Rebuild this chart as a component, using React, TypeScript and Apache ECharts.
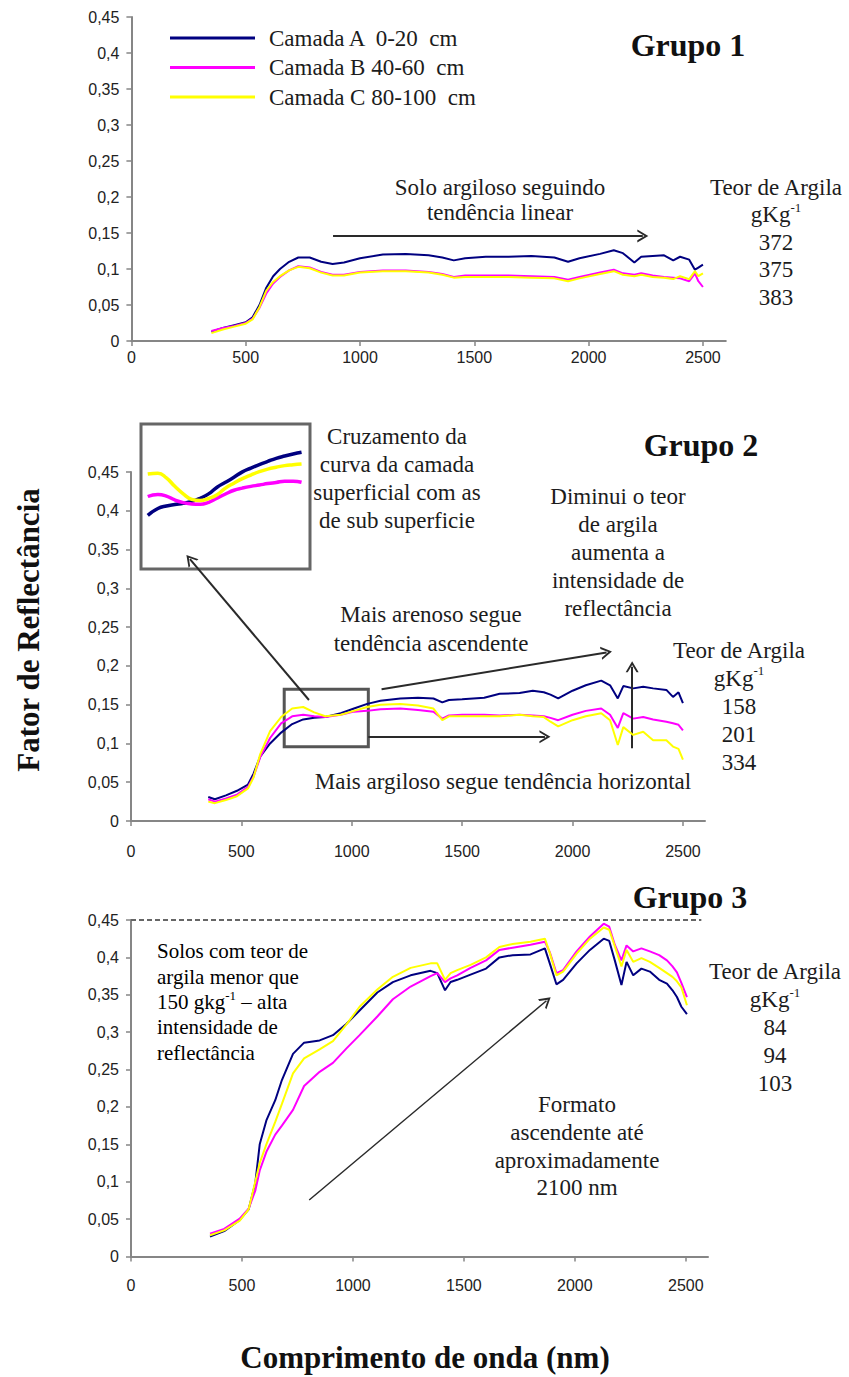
import React, { useEffect, useRef } from 'react';
import * as echarts from 'echarts';

// ---------- data ----------
const SERIES_NAMES = ['Camada A  0-20  cm', 'Camada B 40-60  cm', 'Camada C 80-100  cm'];
const COLORS = ['#000080', '#FF00FF', '#FFFF00'];
const X_TICKS = [0, 500, 1000, 1500, 2000, 2500];

// Grupo 1
const P1_WL = [350, 400, 450, 500, 530, 560, 590, 620, 650, 690, 730, 780, 830, 880, 930, 1000, 1100, 1200, 1300, 1360, 1410, 1460, 1550, 1650, 1750, 1850, 1910, 1960, 2050, 2110, 2150, 2200, 2230, 2280, 2330, 2370, 2400, 2440, 2465, 2480, 2500];
const P1_A = [0.013, 0.018, 0.022, 0.026, 0.033, 0.050, 0.074, 0.090, 0.100, 0.110, 0.116, 0.116, 0.110, 0.107, 0.109, 0.115, 0.120, 0.121, 0.119, 0.116, 0.112, 0.115, 0.117, 0.117, 0.118, 0.116, 0.110, 0.115, 0.121, 0.126, 0.122, 0.109, 0.117, 0.118, 0.119, 0.112, 0.117, 0.113, 0.099, 0.102, 0.106];
const P1_B = [0.014, 0.018, 0.021, 0.025, 0.031, 0.046, 0.066, 0.080, 0.089, 0.098, 0.104, 0.102, 0.096, 0.092, 0.092, 0.096, 0.098, 0.098, 0.096, 0.093, 0.089, 0.091, 0.091, 0.091, 0.090, 0.089, 0.085, 0.089, 0.095, 0.099, 0.094, 0.092, 0.094, 0.091, 0.089, 0.088, 0.087, 0.083, 0.094, 0.083, 0.075];
const P1_C = [0.011, 0.016, 0.020, 0.024, 0.030, 0.047, 0.070, 0.082, 0.090, 0.098, 0.103, 0.101, 0.095, 0.091, 0.091, 0.095, 0.097, 0.097, 0.095, 0.092, 0.088, 0.089, 0.089, 0.089, 0.088, 0.087, 0.083, 0.087, 0.093, 0.097, 0.092, 0.090, 0.092, 0.089, 0.088, 0.086, 0.090, 0.086, 0.097, 0.090, 0.094];
const P1_CLAY = ['372', '375', '383'];

// Grupo 2
const P2_WL = [350, 380, 430, 480, 530, 555, 585, 630, 680, 730, 780, 830, 880, 950, 1010, 1070, 1130, 1220, 1300, 1370, 1410, 1440, 1500, 1600, 1670, 1760, 1820, 1870, 1900, 1935, 2000, 2060, 2130, 2170, 2205, 2230, 2275, 2320, 2365, 2425, 2455, 2480, 2500];
const P2_A = [0.031, 0.028, 0.033, 0.039, 0.047, 0.061, 0.083, 0.100, 0.114, 0.125, 0.131, 0.133, 0.134, 0.139, 0.145, 0.151, 0.155, 0.158, 0.159, 0.158, 0.153, 0.156, 0.157, 0.159, 0.164, 0.165, 0.168, 0.166, 0.163, 0.158, 0.168, 0.175, 0.181, 0.175, 0.158, 0.174, 0.171, 0.173, 0.171, 0.169, 0.160, 0.166, 0.152];
const P2_B = [0.028, 0.025, 0.029, 0.034, 0.044, 0.057, 0.082, 0.107, 0.126, 0.135, 0.137, 0.135, 0.134, 0.137, 0.141, 0.142, 0.144, 0.145, 0.143, 0.141, 0.132, 0.136, 0.137, 0.137, 0.136, 0.137, 0.136, 0.135, 0.133, 0.130, 0.137, 0.142, 0.145, 0.137, 0.120, 0.139, 0.132, 0.134, 0.131, 0.128, 0.126, 0.124, 0.117];
const P2_C = [0.025, 0.023, 0.027, 0.032, 0.042, 0.056, 0.086, 0.116, 0.134, 0.145, 0.147, 0.140, 0.135, 0.137, 0.142, 0.147, 0.150, 0.151, 0.149, 0.145, 0.130, 0.135, 0.135, 0.135, 0.135, 0.137, 0.135, 0.134, 0.128, 0.122, 0.130, 0.135, 0.139, 0.130, 0.098, 0.121, 0.111, 0.115, 0.104, 0.104, 0.096, 0.093, 0.079];
const P2_CLAY = ['158', '201', '334'];

// Grupo 2 inset (zoomed detail, relative units 0-100)
const INSET_X = [4, 10, 15, 20, 25, 30, 35, 40, 45, 50, 55, 60, 65, 70, 75, 80, 85, 90, 95];
const INSET_A = [37, 41.7, 43.5, 44.5, 45.3, 46.6, 48.8, 51.8, 56.4, 59.8, 63.3, 67, 69.6, 72, 74.2, 76.3, 77.9, 79.3, 80.5];
const INSET_B = [50, 51.4, 50.3, 47.6, 45.8, 44.9, 44.6, 46, 48.9, 51.7, 54.3, 55.8, 57, 57.9, 58.9, 59.7, 60.5, 60.5, 59.8];
const INSET_C = [65.5, 66, 62.8, 57, 51.8, 48, 47.2, 48.6, 51.2, 55.8, 59.2, 62.3, 64.8, 67.1, 68.9, 70.2, 71.3, 71.9, 72.4];

// Grupo 3
const P3_WL = [356, 420, 490, 530, 560, 580, 610, 650, 680, 730, 780, 850, 910, 970, 1030, 1110, 1180, 1260, 1350, 1380, 1415, 1440, 1470, 1530, 1600, 1660, 1720, 1800, 1865, 1887, 1917, 1947, 2008, 2068, 2130, 2155, 2180, 2210, 2233, 2263, 2300, 2338, 2380, 2415, 2440, 2460, 2480, 2505];
const P3_A = [0.0265, 0.034, 0.049, 0.063, 0.098, 0.150, 0.182, 0.209, 0.236, 0.271, 0.286, 0.289, 0.296, 0.311, 0.329, 0.353, 0.367, 0.376, 0.382, 0.379, 0.356, 0.367, 0.370, 0.377, 0.385, 0.400, 0.403, 0.404, 0.412, 0.392, 0.364, 0.370, 0.392, 0.410, 0.425, 0.422, 0.396, 0.363, 0.394, 0.376, 0.385, 0.381, 0.370, 0.365, 0.356, 0.347, 0.334, 0.324];
const P3_B = [0.0305, 0.037, 0.0506, 0.064, 0.088, 0.115, 0.140, 0.163, 0.175, 0.196, 0.228, 0.247, 0.259, 0.278, 0.296, 0.321, 0.344, 0.361, 0.375, 0.379, 0.367, 0.372, 0.376, 0.386, 0.396, 0.410, 0.413, 0.417, 0.421, 0.407, 0.379, 0.383, 0.408, 0.428, 0.445, 0.441, 0.417, 0.396, 0.416, 0.408, 0.412, 0.408, 0.403, 0.396, 0.388, 0.380, 0.366, 0.347];
const P3_C = [0.0285, 0.035, 0.048, 0.063, 0.100, 0.125, 0.150, 0.180, 0.204, 0.245, 0.265, 0.277, 0.288, 0.310, 0.334, 0.357, 0.374, 0.386, 0.392, 0.392, 0.370, 0.379, 0.383, 0.390, 0.400, 0.414, 0.418, 0.421, 0.425, 0.406, 0.376, 0.381, 0.405, 0.425, 0.440, 0.437, 0.415, 0.388, 0.410, 0.394, 0.399, 0.394, 0.386, 0.379, 0.374, 0.368, 0.360, 0.336];
const P3_CLAY = ['84', '94', '103'];

// ---------- styling ----------
const SERIF = 'Liberation Serif';
const SANS = 'Liberation Sans';
const TXT = '#1c1c1c';
const AXIS_GRAY = '#868686';
const CHEVRON = 'path://M0,10 L5,0 L10,10 L8.4,10 L5,3.4 L1.6,10 Z';

const zip = (xs: number[], ys: number[]) => xs.map((x, i) => [x, ys[i]]);

function yFmt(v: number) {
  if (v === 0) return '0';
  return String(+v.toFixed(2)).replace('.', ',');
}

function xAxis(gridIndex: number, margin: number) {
  return {
    type: 'value', gridIndex, min: 0, max: 2600,
    axisLine: { show: true, onZero: false, lineStyle: { color: AXIS_GRAY, width: 2 } },
    axisTick: { show: true, length: 5, customValues: X_TICKS, lineStyle: { color: AXIS_GRAY, width: 1.5 } },
    axisLabel: {
      customValues: X_TICKS, margin, fontFamily: SANS, fontSize: 16, color: '#222',
      formatter: (v: number) => String(Math.round(v)),
    },
    splitLine: { show: false },
  };
}

function yAxis(gridIndex: number) {
  return {
    type: 'value', gridIndex, min: 0, max: 0.45, interval: 0.05,
    axisLine: { show: true, lineStyle: { color: AXIS_GRAY, width: 2 } },
    axisTick: { show: true, length: 5, lineStyle: { color: AXIS_GRAY, width: 1.5 } },
    axisLabel: { margin: 12, fontFamily: SANS, fontSize: 16, color: '#222', formatter: yFmt },
    splitLine: { show: false },
  };
}

function arrowLine(data: any[], width = 2) {
  return {
    silent: true,
    symbol: ['none', CHEVRON],
    symbolSize: [13, 11],
    label: { show: false },
    emphasis: { disabled: true },
    lineStyle: { color: '#2a2a2a', width, type: 'solid' },
    data: data.map((seg) => [{ coord: seg[0] }, { coord: seg[1] }]),
  };
}

function lineSeries(name: string, idx: number, grid: number, xs: number[], ys: number[], extra: any = {}, width = 2) {
  return {
    name, type: 'line', xAxisIndex: grid, yAxisIndex: grid,
    data: zip(xs, ys), showSymbol: false, symbol: 'none',
    lineStyle: { color: COLORS[idx], width }, itemStyle: { color: COLORS[idx] },
    emphasis: { disabled: true }, z: 3 + idx,
    ...extra,
  };
}

function text(x: number, y: number, t: string, opts: any = {}) {
  const align = opts.align || 'center';
  const fill = opts.fill || TXT;
  const weight = opts.fontWeight || 'normal';
  return {
    type: 'text', x, y, silent: true, rotation: opts.rotation || 0,
    style: {
      text: t, fill,
      fontFamily: SERIF, fontSize: opts.fontSize || 23, fontWeight: weight,
      lineHeight: opts.lineHeight || 28,
      align, verticalAlign: 'middle',
      rich: {
        s: { fontSize: 13, lineHeight: 14, verticalAlign: 'top', fontFamily: SERIF, fontWeight: weight, fill },
      },
    },
  };
}

function clayBlock(x: number, y: number, vals: string[], lh: number) {
  return text(x, y, ['Teor de Argila', 'gKg{s|-1}', ...vals].join('\n'), { lineHeight: lh });
}

export default function App() {
  const ref = useRef<HTMLDivElement>(null);

  useEffect(() => {
    if (!ref.current) return;
    const chart = echarts.init(ref.current, undefined, { renderer: 'svg' });

    const option: any = {
      animation: false,
      backgroundColor: '#ffffff',
      legend: {
        data: SERIES_NAMES, orient: 'vertical', left: 165, top: 21.5,
        icon: 'rect', itemWidth: 85, itemHeight: 3, itemGap: 6.5, selectedMode: false,
        textStyle: { fontFamily: SERIF, fontSize: 23, lineHeight: 23, color: TXT, padding: [0, 0, 0, 9] },
      },
      grid: [
        { left: 131.4, top: 17, width: 594.4, height: 324 },
        { left: 131, top: 472, width: 574, height: 349 },
        { left: 131, top: 920, width: 577, height: 336.5 },
        { left: 141, top: 424, width: 169, height: 145, show: true, borderColor: '#666', borderWidth: 3, backgroundColor: 'rgba(0,0,0,0)' },
      ],
      xAxis: [
        xAxis(0, 8), xAxis(1, 22), xAxis(2, 21),
        { type: 'value', gridIndex: 3, min: 0, max: 100, show: false },
      ],
      yAxis: [
        yAxis(0), yAxis(1), yAxis(2),
        { type: 'value', gridIndex: 3, min: 0, max: 100, show: false },
      ],
      series: [
        // Grupo 1
        lineSeries(SERIES_NAMES[0], 0, 0, P1_WL, P1_A, {
          markLine: arrowLine([[[882, 0.146], [2237, 0.146]]]),
        }),
        lineSeries(SERIES_NAMES[1], 1, 0, P1_WL, P1_B),
        lineSeries(SERIES_NAMES[2], 2, 0, P1_WL, P1_C),
        // Grupo 2
        lineSeries(SERIES_NAMES[0], 0, 1, P2_WL, P2_A, {
          markLine: arrowLine([
            [[806, 0.156], [267, 0.3376]],
            [[1135, 0.170], [2154, 0.2174]],
            [[1075, 0.1086], [1875, 0.1086]],
            [[2270, 0.0937], [2270, 0.1988]],
          ]),
          markArea: {
            silent: true,
            itemStyle: { color: 'rgba(0,0,0,0)', borderColor: '#555', borderWidth: 3 },
            data: [[{ coord: [694, 0.170] }, { coord: [1075, 0.0957] }]],
          },
        }),
        lineSeries(SERIES_NAMES[1], 1, 1, P2_WL, P2_B),
        lineSeries(SERIES_NAMES[2], 2, 1, P2_WL, P2_C),
        // Grupo 2 inset
        lineSeries(SERIES_NAMES[0], 0, 3, INSET_X, INSET_A, { smooth: true }, 3.5),
        lineSeries(SERIES_NAMES[1], 1, 3, INSET_X, INSET_B, { smooth: true }, 3.5),
        lineSeries(SERIES_NAMES[2], 2, 3, INSET_X, INSET_C, { smooth: true }, 3.5),
        // Grupo 3
        lineSeries(SERIES_NAMES[0], 0, 2, P3_WL, P3_A, {
          markLine: arrowLine([[[803, 0.0755], [1872, 0.342]]], 1.5),
        }),
        lineSeries(SERIES_NAMES[1], 1, 2, P3_WL, P3_B, {
          markLine: {
            silent: true, symbol: ['none', 'none'], label: { show: false }, emphasis: { disabled: true },
            lineStyle: { color: '#666', width: 2, type: [5, 3] },
            data: [[{ coord: [0, 0.45] }, { coord: [2570, 0.45] }]],
          },
        }),
        lineSeries(SERIES_NAMES[2], 2, 2, P3_WL, P3_C),
      ],
      graphic: [
        // titles
        text(688, 45, 'Grupo 1', { fontSize: 32, fontWeight: 'bold', fill: '#111' }),
        text(701, 445, 'Grupo 2', { fontSize: 32, fontWeight: 'bold', fill: '#111' }),
        text(690, 897, 'Grupo 3', { fontSize: 32, fontWeight: 'bold', fill: '#111' }),
        // axis titles
        text(28, 630, 'Fator de Reflectância', { fontSize: 31, fontWeight: 'bold', fill: '#111', rotation: Math.PI / 2 }),
        text(425, 1357, 'Comprimento de onda (nm)', { fontSize: 31, fontWeight: 'bold', fill: '#111' }),
        // Grupo 1 annotations
        text(500, 199.5, 'Solo argiloso seguindo\ntendência linear', { lineHeight: 25 }),
        clayBlock(776, 242, P1_CLAY, 27.5),
        // Grupo 2 annotations
        text(397, 478.7, 'Cruzamento da\ncurva da camada\nsuperficial com as\nde sub superficie', { lineHeight: 28 }),
        text(618, 552.6, 'Diminui o teor\nde argila\naumenta a\nintensidade de\nreflectância', { lineHeight: 27.9 }),
        text(431, 629, 'Mais arenoso segue\ntendência ascendente', { lineHeight: 28.5 }),
        text(503, 781.7, 'Mais argiloso segue tendência horizontal'),
        clayBlock(739, 706, P2_CLAY, 28),
        // Grupo 3 annotations
        text(157, 1002, 'Solos com teor de\nargila menor que\n150 gkg{s|-1} – alta\nintensidade de\nreflectância', { align: 'left', fontSize: 21, lineHeight: 25.4, fill: '#000' }),
        text(577, 1146.4, 'Formato\nascendente até\naproximadamente\n2100 nm', { lineHeight: 27.7 }),
        clayBlock(775, 1027.5, P3_CLAY, 28),
      ],
    };

    chart.setOption(option);
    return () => chart.dispose();
  }, []);

  return (
    <div
      ref={ref}
      style={{ position: 'absolute', left: 0, top: 0, width: 849, height: 1377, background: '#ffffff' }}
    />
  );
}
